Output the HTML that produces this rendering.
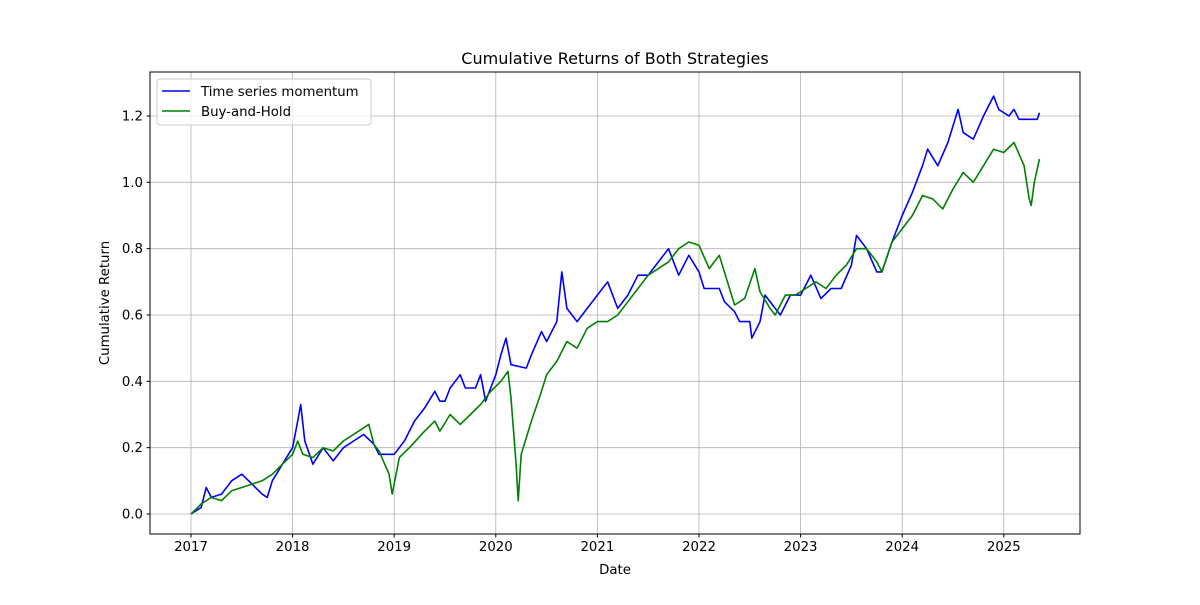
<!DOCTYPE html>
<html><head><meta charset="utf-8"><style>
body{margin:0;background:#fff}
svg text{font-family:"DejaVu Sans","Liberation Sans",sans-serif;fill:#000}
</style></head><body>
<svg id="chart" width="1200" height="600" xmlns="http://www.w3.org/2000/svg">
<rect width="1200" height="600" fill="#fff"/>
<g id="grid"></g>
<g id="series"></g>
<rect x="150" y="72" width="930" height="462" fill="none" stroke="#000" stroke-width="1"/>
<g id="ticks"></g>
<text x="615" y="64" font-size="16" text-anchor="middle">Cumulative Returns of Both Strategies</text>
<text x="615" y="574" font-size="13.3" text-anchor="middle">Date</text>
<text x="0" y="0" font-size="13.3" text-anchor="middle" transform="translate(109,303) rotate(-90)">Cumulative Return</text>
<g>
<rect x="157" y="79" width="214" height="46" rx="3" fill="#fff" fill-opacity="0.8" stroke="#ccc"/>
<line x1="162" y1="91" x2="190" y2="91" stroke="#0000ff" stroke-width="1.5"/>
<text x="201" y="96" font-size="13.3">Time series momentum</text>
<line x1="162" y1="111" x2="190" y2="111" stroke="#008000" stroke-width="1.5"/>
<text x="201" y="116" font-size="13.3">Buy-and-Hold</text>
</g>
</svg>
<script>
const xTicks=[2017,2018,2019,2020,2021,2022,2023,2024,2025];
const yTicks=[0.0,0.2,0.4,0.6,0.8,1.0,1.2];
const tsmDates=[2017.0,2017.1,2017.15,2017.2,2017.3,2017.4,2017.5,2017.6,2017.7,2017.75,2017.8,2017.9,2018.0,2018.05,2018.08,2018.12,2018.2,2018.3,2018.4,2018.5,2018.6,2018.7,2018.8,2018.85,2019.0,2019.1,2019.2,2019.3,2019.4,2019.45,2019.5,2019.55,2019.65,2019.7,2019.8,2019.85,2019.9,2020.0,2020.05,2020.1,2020.15,2020.3,2020.35,2020.45,2020.5,2020.6,2020.65,2020.7,2020.8,2020.9,2021.0,2021.1,2021.2,2021.3,2021.4,2021.5,2021.6,2021.7,2021.75,2021.8,2021.9,2022.0,2022.05,2022.2,2022.25,2022.35,2022.4,2022.5,2022.52,2022.6,2022.65,2022.75,2022.8,2022.9,2023.0,2023.1,2023.2,2023.3,2023.4,2023.5,2023.55,2023.65,2023.75,2023.8,2023.9,2024.0,2024.1,2024.2,2024.25,2024.35,2024.45,2024.55,2024.6,2024.7,2024.8,2024.9,2024.95,2025.05,2025.1,2025.15,2025.33,2025.35];
const tsmValues=[0.0,0.02,0.08,0.05,0.06,0.10,0.12,0.09,0.06,0.05,0.10,0.15,0.20,0.28,0.33,0.22,0.15,0.20,0.16,0.20,0.22,0.24,0.21,0.18,0.18,0.22,0.28,0.32,0.37,0.34,0.34,0.38,0.42,0.38,0.38,0.42,0.34,0.42,0.48,0.53,0.45,0.44,0.48,0.55,0.52,0.58,0.73,0.62,0.58,0.62,0.66,0.70,0.62,0.66,0.72,0.72,0.76,0.80,0.76,0.72,0.78,0.73,0.68,0.68,0.64,0.61,0.58,0.58,0.53,0.58,0.66,0.62,0.60,0.66,0.66,0.72,0.65,0.68,0.68,0.75,0.84,0.80,0.73,0.73,0.82,0.90,0.97,1.05,1.10,1.05,1.12,1.22,1.15,1.13,1.20,1.26,1.22,1.20,1.22,1.19,1.19,1.21];
const bhDates=[2017.0,2017.1,2017.2,2017.3,2017.4,2017.5,2017.6,2017.7,2017.8,2017.9,2018.0,2018.05,2018.1,2018.2,2018.3,2018.4,2018.5,2018.6,2018.7,2018.75,2018.8,2018.85,2018.95,2018.98,2019.05,2019.15,2019.3,2019.4,2019.45,2019.55,2019.65,2019.75,2019.85,2019.95,2020.05,2020.12,2020.15,2020.2,2020.22,2020.25,2020.35,2020.45,2020.5,2020.6,2020.7,2020.8,2020.9,2021.0,2021.1,2021.2,2021.3,2021.4,2021.5,2021.6,2021.7,2021.8,2021.9,2022.0,2022.1,2022.2,2022.3,2022.35,2022.45,2022.55,2022.6,2022.7,2022.75,2022.85,2022.95,2023.05,2023.15,2023.25,2023.35,2023.45,2023.55,2023.65,2023.75,2023.8,2023.9,2024.0,2024.1,2024.2,2024.3,2024.4,2024.5,2024.6,2024.7,2024.8,2024.9,2025.0,2025.1,2025.2,2025.25,2025.27,2025.3,2025.35];
const bhValues=[0.0,0.03,0.05,0.04,0.07,0.08,0.09,0.10,0.12,0.15,0.18,0.22,0.18,0.17,0.20,0.19,0.22,0.24,0.26,0.27,0.21,0.19,0.12,0.06,0.17,0.20,0.25,0.28,0.25,0.30,0.27,0.30,0.33,0.37,0.40,0.43,0.35,0.15,0.04,0.18,0.28,0.37,0.42,0.46,0.52,0.50,0.56,0.58,0.58,0.60,0.64,0.68,0.72,0.74,0.76,0.80,0.82,0.81,0.74,0.78,0.68,0.63,0.65,0.74,0.67,0.62,0.60,0.66,0.66,0.68,0.70,0.68,0.72,0.75,0.80,0.80,0.76,0.73,0.82,0.86,0.90,0.96,0.95,0.92,0.98,1.03,1.00,1.05,1.10,1.09,1.12,1.05,0.95,0.93,1.00,1.07];
const NS='http://www.w3.org/2000/svg';
const L=150,R=1080,T=72,B=534;
function xs(v){return 191+(v-2017)*101.6;}
function ys(v){return 514-v*331.67;}
const grid=document.getElementById('grid'),ticks=document.getElementById('ticks'),ser=document.getElementById('series');
function mk(tag,attrs,parent){const e=document.createElementNS(NS,tag);for(const k in attrs)e.setAttribute(k,attrs[k]);parent.appendChild(e);return e;}
xTicks.forEach(t=>{const x=xs(t);
 const g=mk('line',{x1:x,x2:x,y1:T,y2:B,stroke:'#b0b0b0','stroke-width':0.8},grid);
 
 
 mk('line',{x1:x,x2:x,y1:B,y2:B+3.5,stroke:'#000'},ticks);
 const tx=mk('text',{x:x,y:B+17,'font-size':13.3,'text-anchor':'middle'},ticks);tx.textContent=t;
 
 
});
yTicks.forEach(t=>{const y=ys(t);
 const g=mk('line',{x1:L,x2:R,y1:y,y2:y,stroke:'#b0b0b0','stroke-width':0.8},grid);
 
 
 mk('line',{x1:L-3.5,x2:L,y1:y,y2:y,stroke:'#000'},ticks);
 const tx=mk('text',{x:L-7,y:y+4.5,'font-size':13.3,'text-anchor':'end'},ticks);tx.textContent=t.toFixed(1);
 
 
});
function line(d,v,color,name){
 const pts=d.map((t,i)=>xs(t).toFixed(1)+','+ys(v[i]).toFixed(1)).join(' ');
 const p=mk('polyline',{points:pts,fill:'none',stroke:color,'stroke-width':1.6,'stroke-linejoin':'round'},ser);
 
 
}
line(tsmDates,tsmValues,'#0000ff','tsm-line');
line(bhDates,bhValues,'#008000','buy-and-hold-line');
</script>
</body></html>
